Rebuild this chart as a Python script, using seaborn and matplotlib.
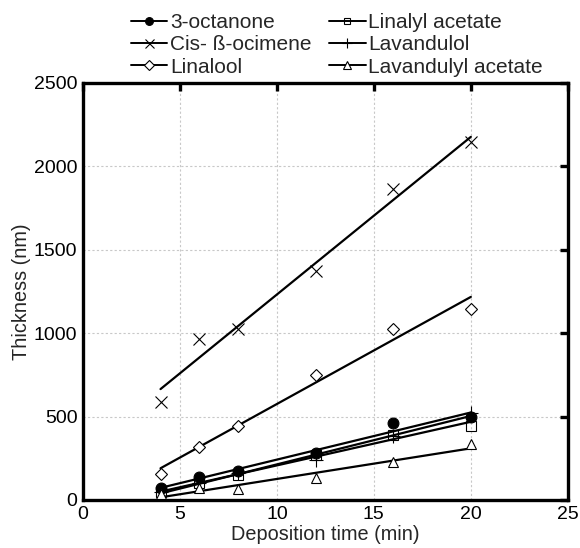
import numpy as np
import pandas as pd
import matplotlib
matplotlib.use("Agg")
import matplotlib.pyplot as plt
from matplotlib.lines import Line2D
import seaborn as sns

# Deposition times (min)
time_min = [4, 6, 8, 12, 16, 20]

# Film thickness (nm) for each compound
octanone = [70, 136, 176, 280, 464, 496]
ocimene = [590, 966, 1024, 1370, 1864, 2144]
linalool = [156, 316, 444, 748, 1028, 1146]
linalyl_acetate = [45, 100, 150, 270, 390, 446]
lavandulol = [50, 100, 160, 240, 385, 520]
lavandulyl_acetate = [35, 70, 68, 130, 230, 334]

names = ["3-octanone", "Cis- ß-ocimene", "Linalool",
         "Linalyl acetate", "Lavandulol", "Lavandulyl acetate"]
series = [octanone, ocimene, linalool, linalyl_acetate, lavandulol, lavandulyl_acetate]

df = pd.DataFrame({
    "time": np.tile(time_min, len(names)),
    "thickness": np.concatenate(series),
    "compound": np.repeat(names, len(time_min)),
})

styles = {
    "3-octanone": dict(marker="o", ms=7.8, mfc="black"),
    "Cis- ß-ocimene": dict(marker="x", ms=9, mfc="none"),
    "Linalool": dict(marker="D", ms=6.5, mfc="white"),
    "Linalyl acetate": dict(marker="s", ms=6.8, mfc="none"),
    "Lavandulol": dict(marker="+", ms=9.5, mfc="none"),
    "Lavandulyl acetate": dict(marker="^", ms=7.5, mfc="white"),
}

sns.set_theme(style="white")
plt.rcParams["font.family"] = ["Liberation Sans", "DejaVu Sans"]

fig = plt.figure(figsize=(5.8, 5.48), dpi=100)
ax = fig.add_axes([0.143, 0.0876, 0.836, 0.761])

for name in names:
    sub = df[df["compound"] == name]
    sns.regplot(data=sub, x="time", y="thickness", ax=ax, scatter=False,
                ci=None, truncate=True,
                line_kws=dict(color="black", lw=1.6, zorder=2))
    st = styles[name]
    ax.plot(sub["time"], sub["thickness"], ls="none", color="black",
            marker=st["marker"], ms=st["ms"], mfc=st["mfc"],
            mec="black", mew=0.8, zorder=3)

ax.set_xlim(0, 25)
ax.set_ylim(0, 2500)
ax.set_xticks([0, 5, 10, 15, 20, 25])
ax.set_yticks([0, 500, 1000, 1500, 2000, 2500])
ax.grid(True, color="#c8c8c8", ls=(0, (2, 2)), lw=0.8)
ax.set_axisbelow(True)
for sp in ax.spines.values():
    sp.set_linewidth(2.4)
    sp.set_color("black")
ax.tick_params(direction="in", length=5.5, width=2.4, top=True, right=True,
               labeltop=False, labelright=False, labelsize=14, pad=4,
               colors="black")
ax.set_xlabel("Deposition time (min)", fontsize=14.3, labelpad=2)
ax.set_ylabel("Thickness (nm)", fontsize=14.3, labelpad=2)

handles = []
for name in names:
    st = styles[name]
    handles.append(Line2D([], [], color="black", lw=1.4, marker=st["marker"],
                          ms=st["ms"] * 0.72, mfc=st["mfc"], mec="black",
                          mew=0.8))
fig.legend(handles, names, loc="upper left",
           bbox_to_anchor=(131 / 580, 1 - 13 / 548),
           ncol=2, frameon=False, fontsize=15, handlelength=1.75,
           handletextpad=0.12, columnspacing=0.85, labelspacing=0.16,
           borderpad=0, borderaxespad=0)

fig.savefig("out.png", dpi=100)
